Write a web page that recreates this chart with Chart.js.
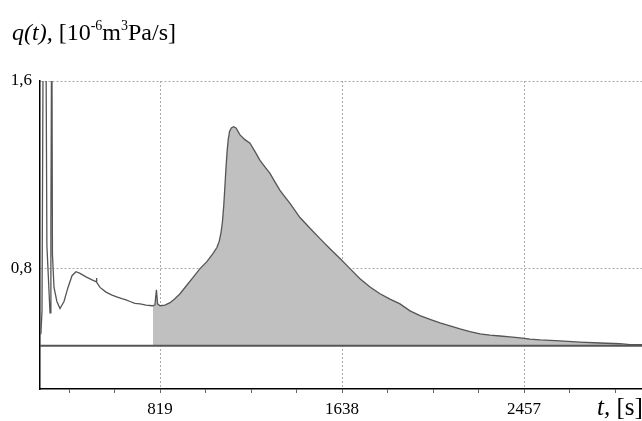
<!DOCTYPE html>
<html>
<head>
<meta charset="utf-8">
<script src="https://cdn.jsdelivr.net/npm/chart.js@4.4.1/dist/chart.umd.min.js"></script>
<style>
    body { margin: 0; background: #fff; }
    #wrap { position: relative; width: 642px; height: 421px; overflow: hidden; }
    .title { position: absolute; left: 12px; top: 19px; font-family: "Liberation Serif", serif; font-size: 24px; color: #000; white-space: nowrap; }
    .title sup { font-size: 14px; vertical-align: 10px; line-height: 0; }
    .xname { position: absolute; left: 597px; top: 393px; font-family: "Liberation Serif", serif; font-size: 25px; color: #000; white-space: nowrap; }
</style>
</head>
<body>
<div id="wrap">
    <canvas id="chart"></canvas>
    <div class="title"><i>q(t),</i> [10<sup>-6</sup>m<sup>3</sup>Pa/s]</div>
    <div class="xname"><i>t,</i> [s]</div>
</div>
<script>
// time axis, seconds
const times = [
    283, 288, 295, 304, 310, 324, 328, 332, 335, 342, 355, 369, 387, 405, 423, 441,
    459, 486, 513, 531, 533, 535, 549, 576, 603, 630, 648, 666, 684, 706, 729, 756,
    783, 787, 796, 803, 808, 819, 841, 864, 886, 909, 936, 967, 999, 1030, 1057, 1075,
    1085, 1093, 1100, 1106, 1111, 1116, 1121, 1126, 1132, 1140, 1150, 1161, 1170, 1179, 1201,
    1224, 1246, 1269, 1291, 1314, 1336, 1359, 1381, 1404, 1426, 1449, 1494, 1539, 1584,
    1629, 1674, 1719, 1764, 1809, 1854, 1899, 1944, 1989, 2034, 2079, 2124, 2169, 2214,
    2259, 2304, 2349, 2394, 2439, 2484, 2529, 2574, 2619, 2709, 2799, 2889, 2934, 2988
];
// q(t), 10^-6 m3Pa/s
const flow = [
    0.52, 0.62, 2.2, 2.2, 0.9, 0.612, 1.0, 2.0, 0.86, 0.72, 0.66, 0.63, 0.66, 0.72, 0.77, 0.787,
    0.78, 0.765, 0.752, 0.745, 0.76, 0.742, 0.72, 0.70, 0.687, 0.678, 0.672, 0.667, 0.66, 0.652, 0.65, 0.645,
    0.642, 0.643, 0.645, 0.71, 0.65, 0.642, 0.645, 0.655, 0.672, 0.693, 0.725, 0.762, 0.80, 0.83, 0.864, 0.89,
    0.915, 0.95, 1.0, 1.07, 1.15, 1.23, 1.3, 1.35, 1.385, 1.40, 1.405, 1.40, 1.385, 1.37, 1.35,
    1.335, 1.30, 1.262, 1.234, 1.206, 1.17, 1.134, 1.106, 1.078, 1.048, 1.018, 0.972, 0.928, 0.885,
    0.843, 0.80, 0.757, 0.722, 0.693, 0.67, 0.65, 0.62, 0.60, 0.584, 0.569, 0.556, 0.543, 0.532,
    0.522, 0.517, 0.513, 0.509, 0.505, 0.50, 0.496, 0.494, 0.492, 0.487, 0.483, 0.48, 0.476, 0.476
];
const baseLevel = 0.471;
const fillStart = 787;
const xMin = 279, xMax = 2988;
const yMin = 0.287, yMax = 1.6;
const majorTicks = [819, 1638, 2457];
const minorStep = 204.75;
const yTicks = [0.8, 1.6];
const yTickLabels = ['0,8', '1,6'];

const linePoints = times.map((t, i) => ({ x: t, y: flow[i] }));
const fillPoints = linePoints.filter(p => p.x >= fillStart);

const isMajor = v => majorTicks.some(m => Math.abs(m - v) < 0.5);
const serif = '"Liberation Serif", "Times New Roman", serif';

new Chart(document.getElementById('chart'), {
    type: 'line',
    data: {
        datasets: [
            {
                data: linePoints,
                borderColor: '#555',
                borderWidth: 1.3,
                pointRadius: 0,
                fill: false,
                order: 0
            },
            {
                data: [{ x: xMin, y: baseLevel }, { x: xMax, y: baseLevel }],
                borderColor: '#555',
                borderWidth: 2,
                pointRadius: 0,
                fill: false,
                order: 1
            },
            {
                data: fillPoints,
                borderWidth: 0,
                pointRadius: 0,
                backgroundColor: '#c0c0c0',
                fill: { value: baseLevel },
                order: 2
            }
        ]
    },
    options: {
        responsive: true,
        maintainAspectRatio: false,
        animation: false,
        layout: { padding: { top: 81, left: 0, right: 0, bottom: 0 } },
        plugins: { legend: { display: false }, tooltip: { enabled: false } },
        scales: {
            x: {
                type: 'linear',
                min: xMin,
                max: xMax,
                afterBuildTicks: scale => {
                    const ticks = [];
                    for (let v = minorStep * 2; v < xMax; v += minorStep) ticks.push({ value: v });
                    scale.ticks = ticks;
                },
                afterFit: scale => { scale.height = 32; },
                ticks: {
                    autoSkip: false,
                    maxRotation: 0,
                    padding: 6,
                    color: '#000',
                    font: { family: serif, size: 17 },
                    callback: v => isMajor(v) ? String(Math.round(v)) : ''
                },
                grid: {
                    color: ctx => ctx.tick && isMajor(ctx.tick.value) ? '#aaa' : 'rgba(0,0,0,0)',
                    tickColor: '#666',
                    tickLength: 4,
                    lineWidth: 1
                },
                // in v4 the dash applies to grid lines, the axis line stays solid
                border: { display: true, color: '#000', width: 1.5, dash: [2, 2] }
            },
            y: {
                type: 'linear',
                min: yMin,
                max: yMax,
                afterBuildTicks: scale => { scale.ticks = yTicks.map(v => ({ value: v })); },
                afterFit: scale => { scale.width = 40; },
                ticks: {
                    padding: 8,
                    color: '#000',
                    font: { family: serif, size: 17 },
                    callback: v => yTickLabels[yTicks.indexOf(v)] || ''
                },
                grid: {
                    color: '#aaa',
                    drawTicks: false,
                    lineWidth: 1
                },
                border: { display: true, color: '#000', width: 1.5, dash: [2, 2] }
            }
        }
    }
});
</script>
</body>
</html>
